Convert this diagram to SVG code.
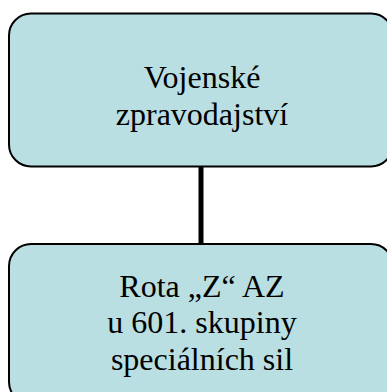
<svg xmlns="http://www.w3.org/2000/svg" width="387" height="392" viewBox="0 0 387 392">
<style>
.box{fill:#B9DFE2;stroke:#000;stroke-width:2}
.t{font-family:"Liberation Serif","Times New Roman",serif;font-size:32px;fill:#000;text-anchor:middle}
.c{stroke:#000;stroke-width:5;fill:none}
</style>
<rect width="387" height="392" fill="#fff"/>
<g id="connectors">
<line class="c" x1="201" y1="167" x2="201" y2="244"/>
</g>
<g id="node1">
<rect class="box" x="9" y="13.5" width="384" height="153" rx="22" ry="22"/>
<text class="t" x="202" y="88">Vojenské</text>
<text class="t" x="202" y="125">zpravodajství</text>
</g>
<g id="node2">
<rect class="box" x="9" y="244" width="384" height="160" rx="22" ry="22"/>
<text class="t" x="202" y="297">Rota „Z“ AZ</text>
<text class="t" x="202" y="333">u 601. skupiny</text>
<text class="t" x="202" y="370">speciálních sil</text>
</g>
</svg>
